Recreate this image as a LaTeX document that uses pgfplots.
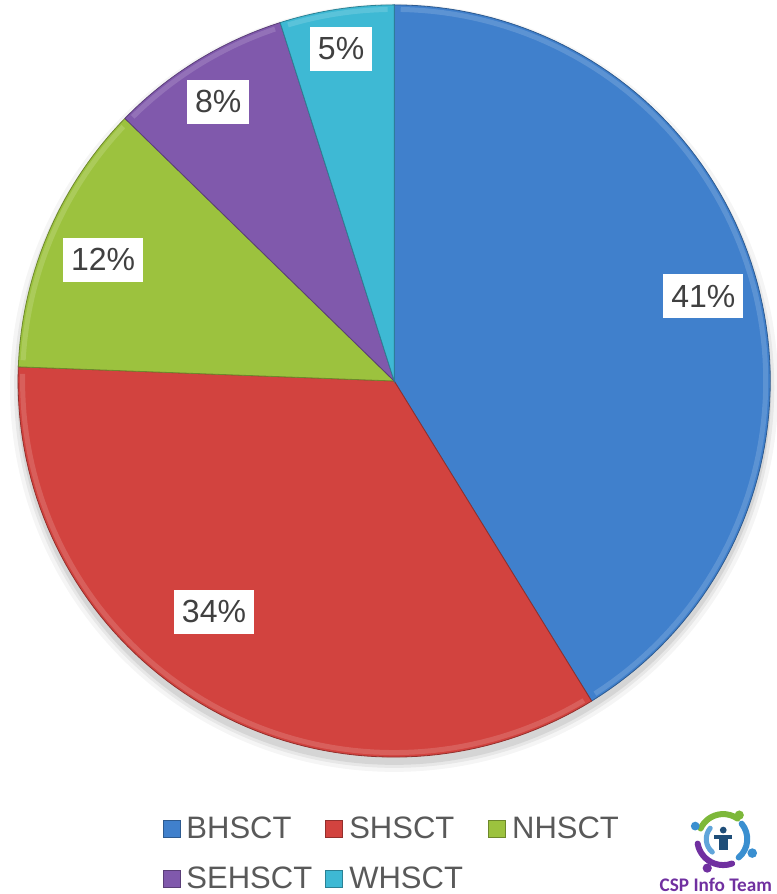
\documentclass[border=0pt]{standalone}
\usepackage{fontspec}
\setmainfont{Liberation Sans}
\newfontfamily\logofont{Carlito}
\usepackage{pgfplots}
\pgfplotsset{compat=1.18}

\definecolor{cB}{HTML}{4080CC}
\definecolor{cS}{HTML}{D2433F}
\definecolor{cN}{HTML}{9CC23E}
\definecolor{cSE}{HTML}{8059AC}
\definecolor{cW}{HTML}{3EB9D4}
\definecolor{lblgray}{HTML}{404040}
\definecolor{leggray}{HTML}{595959}
\definecolor{logoPurple}{HTML}{7030A0}
\definecolor{logoBlue}{HTML}{3A8FD0}
\definecolor{logoGreen}{HTML}{7DB83A}
\definecolor{logoDark}{HTML}{1F4E79}

\tikzset{lbl/.style={fill=white, text=lblgray, font=\fontsize{16}{18}\selectfont,
  inner xsep=4pt, inner ysep=0pt, minimum height=22pt}}

% shares (%) -> angles, start at 12 o'clock, clockwise
% BHSCT 41.2, SHSCT 34.4, NHSCT 11.7, SEHSCT 7.8, WHSCT 4.9

\begin{document}
\begin{tikzpicture}
\begin{axis}[
  x=188pt, y=188pt,
  xmin=-1.048, xmax=1.016, ymin=-1.364, ymax=1.013,
  hide axis, clip=false,
  legend columns=3,
  legend cell align=left,
  legend style={at={(0.209,0.091)}, anchor=north west, draw=none, fill=none,
    inner sep=0pt, font=\fontsize{15.5}{18}\selectfont, text=leggray,
    nodes={inner xsep=3pt, text width=66.5pt, align=left},
    /tikz/every even column/.append style={column sep=0pt}, row sep=8.5pt},
  legend image code/.code={\fill[#1] (0pt,-4.25pt) rectangle (8.5pt,4.25pt);},
]
% soft shadow
\fill[black, opacity=0.04] (axis cs:0,-0.018) circle[radius=192pt];
\fill[black, opacity=0.06] (axis cs:0,-0.018) circle[radius=190pt];
\fill[black, opacity=0.08] (axis cs:0,-0.018) circle[radius=188.5pt];

\addplot[fill=cB, draw=cB!70!black, line width=0.4pt, domain=-58.32:90, samples=90]
  ({cos(x)},{sin(x)}) -- (0,0) -- cycle;
\addlegendentry{BHSCT}
\addplot[fill=cS, draw=cS!70!black, line width=0.4pt, domain=-182.16:-58.32, samples=80]
  ({cos(x)},{sin(x)}) -- (0,0) -- cycle;
\addlegendentry{SHSCT}
\addplot[fill=cN, draw=cN!70!black, line width=0.4pt, domain=-224.28:-182.16, samples=40]
  ({cos(x)},{sin(x)}) -- (0,0) -- cycle;
\addlegendentry{NHSCT}
\addplot[fill=cSE, draw=cSE!70!black, line width=0.4pt, domain=-252.36:-224.28, samples=30]
  ({cos(x)},{sin(x)}) -- (0,0) -- cycle;
\addlegendentry{SEHSCT}
\addplot[fill=cW, draw=cW!70!black, line width=0.4pt, domain=-270:-252.36, samples=20]
  ({cos(x)},{sin(x)}) -- (0,0) -- cycle;
\addlegendentry{WHSCT}

% bevel rim along the outer edge
\addplot[forget plot, draw=cB!75!white, line width=2.5pt, opacity=0.6, domain=-57.3:89, samples=90]
  ({0.988*cos(x)},{0.988*sin(x)});
\addplot[forget plot, draw=cS!75!white, line width=2.5pt, opacity=0.6, domain=-181.1:-59.3, samples=80]
  ({0.988*cos(x)},{0.988*sin(x)});
\addplot[forget plot, draw=cN!75!white, line width=2.5pt, opacity=0.6, domain=-223.2:-183.2, samples=40]
  ({0.988*cos(x)},{0.988*sin(x)});
\addplot[forget plot, draw=cSE!75!white, line width=2.5pt, opacity=0.6, domain=-251.3:-225.3, samples=30]
  ({0.988*cos(x)},{0.988*sin(x)});
\addplot[forget plot, draw=cW!75!white, line width=2.5pt, opacity=0.6, domain=-269:-253.4, samples=20]
  ({0.988*cos(x)},{0.988*sin(x)});

% data labels
\node[lbl] at (axis cs:0.822,0.226) {41\%};
\node[lbl] at (axis cs:-0.479,-0.614) {34\%};
\node[lbl] at (axis cs:-0.774,0.322) {12\%};
\node[lbl] at (axis cs:-0.468,0.742) {8\%};
\node[lbl] at (axis cs:-0.141,0.883) {5\%};

% logo
\begin{scope}[shift={(axis cs:0.875,-1.218)}]
  \draw[logoGreen, line width=3pt, line cap=round] (155:12.5pt) arc[start angle=155, end angle=55, radius=12.5pt];
  \draw[logoBlue!80!white, line width=2.5pt, line cap=round] (140:8.5pt) arc[start angle=140, end angle=230, radius=8.5pt];
  \draw[logoPurple, line width=3pt, line cap=round] (190:13pt) arc[start angle=190, end angle=290, radius=13pt];
  \draw[logoBlue, line width=3pt, line cap=round] (40:12pt) arc[start angle=40, end angle=-50, radius=12pt];
  \fill[logoGreen] (8pt,12pt) circle[radius=2.3pt];
  \fill[logoBlue] (14.5pt,-7pt) circle[radius=2.4pt];
  \fill[logoPurple] (-8pt,-14.5pt) circle[radius=2.3pt];
  \fill[logoBlue] (-14pt,6.5pt) circle[radius=2.2pt];
  \fill[logoDark] (0pt,4.5pt) circle[radius=1.7pt];
  \fill[logoDark] (-2.2pt,-5.5pt) rectangle (2.2pt,2.2pt);
  \fill[logoDark] (-4.5pt,0.2pt) rectangle (4.5pt,2pt);
\end{scope}
\node[anchor=base west, font=\logofont\fontsize{9.6}{12}\selectfont\bfseries, text=logoPurple, inner sep=0pt]
  at (axis cs:0.705,-1.358) {CSP Info Team};
\end{axis}
\pgfresetboundingbox
\path[use as bounding box] (current axis.south west) rectangle (current axis.north east);
\end{tikzpicture}
\end{document}
